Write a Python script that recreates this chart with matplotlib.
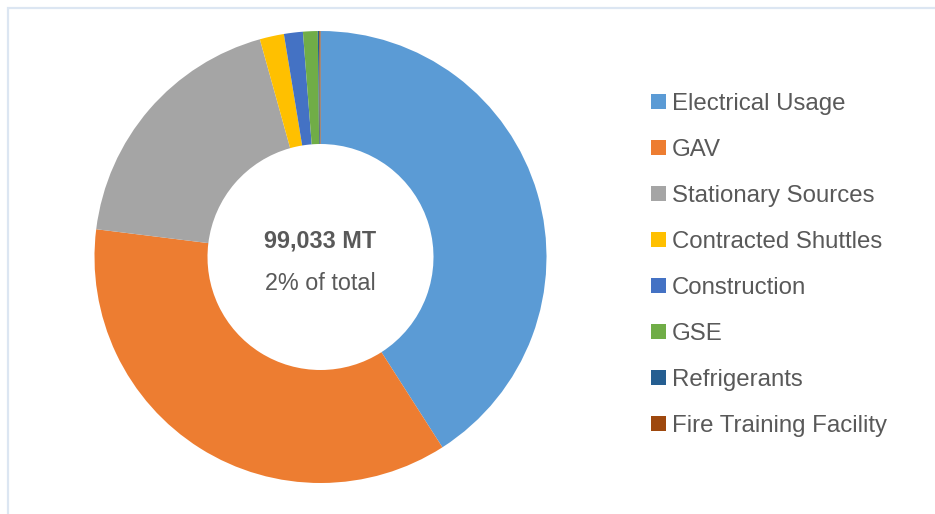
import matplotlib
matplotlib.use("Agg")
import matplotlib.pyplot as plt
import matplotlib.patches as mpatches

plt.rcParams["font.family"] = ["Liberation Sans", "DejaVu Sans"]

# ── Data ──────────────────────────────────────────────────────────────────────
SOURCES = [
    "Electrical Usage",
    "GAV",
    "Stationary Sources",
    "Contracted Shuttles",
    "Construction",
    "GSE",
    "Refrigerants",
    "Fire Training Facility",
]
SHARES = [40.9, 36.0, 18.7, 1.73, 1.35, 1.05, 0.10, 0.09]
COLORS = ["#5B9BD5", "#ED7D31", "#A5A5A5", "#FFC000",
          "#4472C4", "#70AD47", "#255E91", "#9E480E"]
TOTAL_LABEL = "99,033 MT"
SUB_LABEL = "2% of total"

TEXT_COLOR = "#595959"
W, H = 935, 514
FS = 17.3

fig = plt.figure(figsize=(W / 100, H / 100), dpi=100)
fig.patch.set_facecolor("white")

# light frame (left + top edges visible)
fig.add_artist(mpatches.Rectangle((7.5 / W, -0.1), 1.2, (H - 8) / H + 0.1,
                                  transform=fig.transFigure, fill=False,
                                  edgecolor="#DCE6F2", lw=1.6))

# ── Donut ─────────────────────────────────────────────────────────────────────
cx, cy, r = 320.5, 257, 226
ax = fig.add_axes([(cx - r) / W, (H - cy - r) / H, 2 * r / W, 2 * r / H])
ax.pie(SHARES, colors=COLORS, startangle=90, counterclock=False, radius=1,
       wedgeprops=dict(width=0.5, linewidth=0))
ax.set_xlim(-1, 1)
ax.set_ylim(-1, 1)
ax.set_aspect("equal")
ax.axis("off")

fig.text(cx / W, 1 - 241 / H, TOTAL_LABEL, ha="center", va="center",
         fontsize=16.8, fontweight="bold", color=TEXT_COLOR)
fig.text(cx / W, 1 - 283 / H, SUB_LABEL, ha="center", va="center",
         fontsize=16.8, color=TEXT_COLOR)

# ── Legend ────────────────────────────────────────────────────────────────────
handles = [mpatches.Patch(facecolor=c, edgecolor="none", label=s)
           for s, c in zip(SOURCES, COLORS)]
fig.legend(handles=handles, loc="upper left",
           bbox_to_anchor=(651 / W, 1 - 93 / H),
           frameon=False, fontsize=FS, labelcolor=TEXT_COLOR,
           handlelength=0.61, handleheight=0.61, handletextpad=0.27,
           labelspacing=1.0, borderpad=0, borderaxespad=0)

fig.savefig("out.png", dpi=100)
